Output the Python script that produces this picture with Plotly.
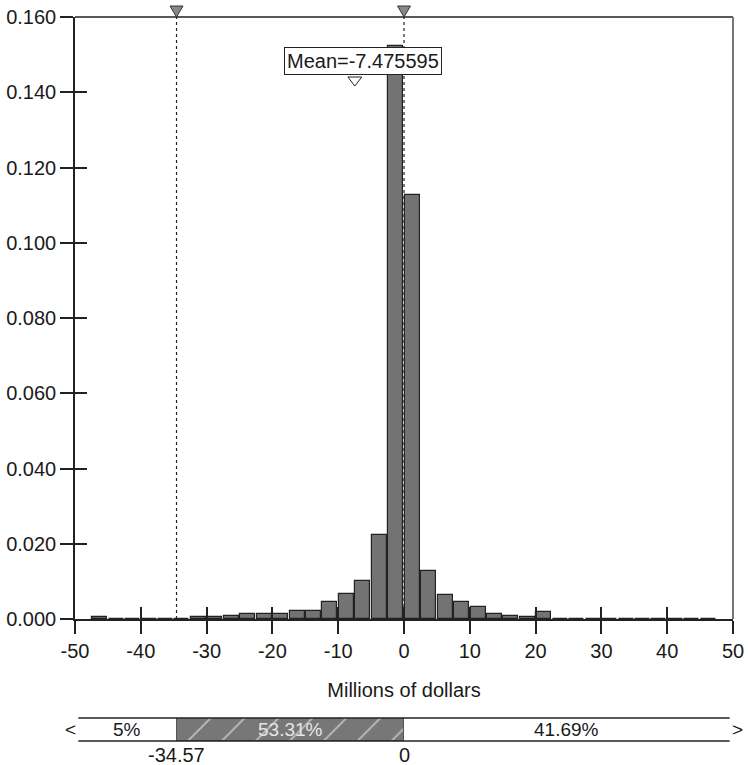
import plotly.graph_objects as go

# ---------------- data ----------------
bin_width = 2.5
bin_start = -47.5
density = [
    0.0005, 0.0001, 0.0001, 0.0001, 0.0001, 0.0001, 0.0005, 0.0005, 0.0009,
    0.0013, 0.0013, 0.0013, 0.0022, 0.0022, 0.0044, 0.0066, 0.0101, 0.0223,
    0.1522,
    0.1126, 0.0128, 0.0065, 0.0044, 0.0031, 0.0014, 0.0009, 0.0005, 0.0019,
    0.0001, 0.0001, 0.0001, 0.0001, 0.0001, 0.0001, 0.0001, 0.0001, 0.0001, 0.0001,
]
cut_points = [-34.57, 0.0]
cut_labels = ["-34.57", "0"]
band_pcts = ["5%", "53.31%", "41.69%"]
band_limits = [-49.5, 49.5]
mean_value = -7.475595
x_range = [-50, 50]
y_range = [0, 0.16]
x_ticks = [-50, -40, -30, -20, -10, 0, 10, 20, 30, 40, 50]
x_tick_text = ["-50", "-40", "-30", "-20", "-10", "0", "10", "20", "30", "40", "50"]
y_ticks = [0.0, 0.02, 0.04, 0.06, 0.08, 0.10, 0.12, 0.14, 0.16]
x_title = "Millions of dollars"

centers = [bin_start + bin_width * (i + 0.5) for i in range(len(density))]

FONT = "Liberation Sans, Arial, sans-serif"
TXT = "#1a1a1a"
W, H = 748, 765
ML, MR, MT, MB = 75, 15, 17, 0
plot_h = H - MT - MB
main_bottom_px = 619          # pixel row of the x axis
band_top_px, band_bot_px = 718, 741
main_dom = [(H - main_bottom_px) / plot_h, 1.0]
band_dom = [(H - band_bot_px) / plot_h, (H - band_top_px) / plot_h]
main_px = main_bottom_px - MT
per_px = (y_range[1] - y_range[0]) / main_px
unit_px = (W - ML - MR) / (x_range[1] - x_range[0])

fig = go.Figure()

# histogram
fig.add_trace(go.Bar(
    x=centers, y=density, width=bin_width * 0.91,
    marker=dict(color="#737373", line=dict(color="#222222", width=1.2)),
    xaxis="x", yaxis="y", showlegend=False, hoverinfo="x+y",
))

# mean marker (small hollow triangle)
fig.add_trace(go.Scatter(
    x=[mean_value], y=[y_range[1] - per_px * (80 - MT)],
    mode="markers", marker=dict(symbol="triangle-down", size=12, color="white",
                                line=dict(color="#222", width=1)),
    xaxis="x", yaxis="y", showlegend=False, hoverinfo="skip", cliponaxis=False,
))

# dummy trace for overlay axes (inside ticks)
fig.add_trace(go.Scatter(
    x=[x_range[0]], y=[y_range[0]], mode="markers", marker=dict(opacity=0),
    xaxis="x3", yaxis="y3", showlegend=False, hoverinfo="skip",
))

# percentile band: shaded middle region
fig.add_trace(go.Bar(
    y=[0.5], x=[cut_points[1] - cut_points[0]], base=[cut_points[0]],
    orientation="h", width=1.0,
    marker=dict(color="#777777",
                line=dict(color="#555555", width=1),
                pattern=dict(shape="/", fgcolor="white", bgcolor="#777777",
                             size=24, solidity=0.08, fillmode="overlay")),
    xaxis="x2", yaxis="y2", showlegend=False, hoverinfo="skip",
))

shapes = []
# dotted cut lines
for c in cut_points:
    shapes.append(dict(type="line", xref="x", yref="y domain", x0=c, x1=c,
                       y0=0, y1=1 + 8 / main_px, layer="above",
                       line=dict(color="#222", width=1.2, dash="dot")))
# top border
shapes.append(dict(type="line", xref="paper", yref="y domain", x0=0, x1=1, y0=1, y1=1,
                   line=dict(color="#222", width=1.5)))
# right border
shapes.append(dict(type="line", xref="paper", yref="y domain", x0=1, x1=1, y0=0, y1=1,
                   line=dict(color="#777", width=2)))
# cut markers (gray triangles above top axis)
tri_hw = 6.5 / unit_px
tri_h = 11 / main_px
for c in cut_points:
    shapes.append(dict(type="path", xref="x", yref="y domain", layer="above",
                       path=f"M {c - tri_hw},{1 + tri_h} L {c + tri_hw},{1 + tri_h} L {c},1 Z",
                       fillcolor="#888888", line=dict(color="#333", width=1)))
# band top/bottom lines
for yy in (0, 1):
    shapes.append(dict(type="line", xref="x2", yref="y2 domain",
                       x0=band_limits[0], x1=band_limits[1], y0=yy, y1=yy,
                       line=dict(color="#222", width=1.5)))

ann = []
ann.append(dict(text="Mean=" + f"{mean_value:.6f}", x=mean_value, xref="x",
                xshift=8, y=1 - (61.5 - MT) / main_px, yref="y domain",
                xanchor="center", yanchor="middle", showarrow=False,
                bgcolor="white", bordercolor="#222", borderwidth=1, borderpad=2,
                font=dict(size=20, color=TXT, family=FONT)))
# band texts
band_edges = [band_limits[0]] + cut_points + [band_limits[1]]
band_colors = [TXT, "#e6e6e6", TXT]
for i, t in enumerate(band_pcts):
    ann.append(dict(text=t, x=(band_edges[i] + band_edges[i + 1]) / 2, xref="x2",
                    y=0.5, yref="y2 domain", showarrow=False,
                    font=dict(size=19, color=band_colors[i], family=FONT)))
ann.append(dict(text="<", x=band_limits[0], xref="x2", xanchor="right",
                y=0.5, yref="y2 domain", showarrow=False,
                font=dict(size=19, color=TXT, family=FONT)))
ann.append(dict(text=">", x=band_limits[1], xref="x2", xanchor="left",
                y=0.5, yref="y2 domain", showarrow=False,
                font=dict(size=19, color=TXT, family=FONT)))
for c, lab in zip(cut_points, cut_labels):
    ann.append(dict(text=lab, x=c, xref="x2", y=0, yref="y2 domain",
                    yanchor="top", yshift=-1, showarrow=False,
                    font=dict(size=20, color=TXT, family=FONT)))

fig.update_layout(
    width=W, height=H,
    margin=dict(l=ML, r=MR, t=MT, b=MB, autoexpand=False),
    paper_bgcolor="white", plot_bgcolor="white",
    font=dict(family=FONT, size=20, color=TXT),
    bargap=0,
    shapes=shapes, annotations=ann,
    xaxis=dict(range=x_range, tickvals=x_ticks, ticktext=x_tick_text,
               ticks="outside", ticklen=13,
               tickwidth=1.5, tickcolor="#222", showline=True, linecolor="#222",
               linewidth=2, showgrid=False, zeroline=False, anchor="y",
               automargin=False,
               title=dict(text=x_title, standoff=22, font=dict(size=20)),
               tickfont=dict(size=20)),
    yaxis=dict(range=y_range, tickvals=y_ticks, tickformat=".3f", ticks="outside",
               ticklen=13, tickwidth=1.5, tickcolor="#222", showline=True,
               linecolor="#222", linewidth=1.5, showgrid=False, zeroline=False,
               domain=main_dom, anchor="x", tickfont=dict(size=20),
               automargin=False),
    xaxis3=dict(range=x_range, tickvals=x_ticks, ticks="inside", ticklen=12,
                tickwidth=1.5, tickcolor="#222", showticklabels=False,
                showline=False, showgrid=False, zeroline=False,
                overlaying="x", anchor="y3"),
    yaxis3=dict(range=y_range, tickvals=y_ticks, ticks="inside", ticklen=12,
                tickwidth=1.5, tickcolor="#222", showticklabels=False,
                showline=False, showgrid=False, zeroline=False,
                overlaying="y", anchor="x3"),
    xaxis2=dict(range=x_range, visible=False, anchor="y2"),
    yaxis2=dict(range=[0, 1], visible=False, domain=band_dom, anchor="x2"),
)

fig.write_html("out.html", config={"displayModeBar": False},
               post_script="document.body.style.margin='0';document.body.style.overflow='hidden';")
